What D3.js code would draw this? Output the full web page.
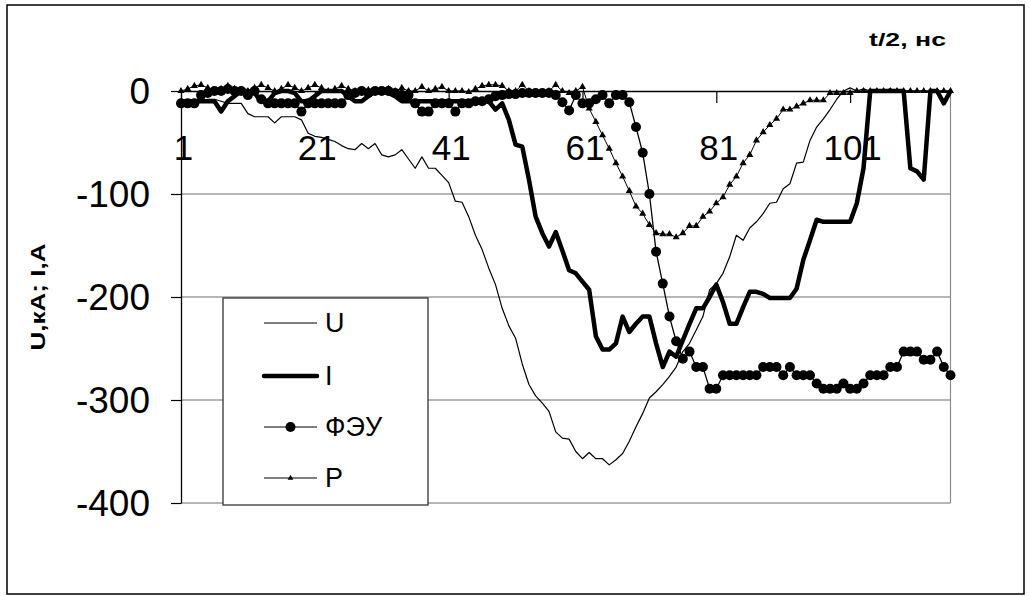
<!DOCTYPE html>
<html>
<head>
<meta charset="utf-8">
<script src="https://cdn.jsdelivr.net/npm/d3@7"></script>
<style>
  body { margin: 0; background: #fff; }
  svg text { font-family: "Liberation Sans", Arial, sans-serif; fill: #000; }
</style>
</head>
<body>
<div id="chart"></div>
<script>
// 1: DATA (t/2 step index 1..116)
const categories = d3.range(1, 117);
const xTickValues = [1, 21, 41, 61, 81, 101];
const yTickValues = [0, -100, -200, -300, -400];

const seriesU = [
  -12, -12, -10, -10, -8, -8, -10, -12, -12, -12,
  -22, -25, -25, -25, -31, -25, -25, -25, -28, -41,
  -44, -45, -47, -49, -53, -56, -57, -51, -56, -51,
  -62, -64, -62, -57, -66, -75, -64, -75, -75, -82,
  -89, -107, -108, -122, -140, -154, -172, -188, -211, -228,
  -240, -265, -285, -296, -303, -311, -331, -337, -338, -350,
  -357, -351, -357, -357, -363, -358, -352, -340, -326, -313,
  -298, -292, -285, -277, -268, -253, -245, -232, -219, -193,
  -187, -177, -161, -140, -145, -133, -127, -119, -109, -108,
  -95, -90, -70, -69, -48, -35, -27, -18, -8, 0,
  3, 0, 2, 0, 0, 0, 2, 0, 0, 0,
  0, 0, 0, 0, 0, 0
];

const seriesI = [
  -10, -10, -10, -10, -10, -10, -20, -10, -5, 0,
  0, -2, -10, -10, -2, 0, 0, -2, -10, -10,
  -5, 0, 0, 0, 0, -5, -10, -10, -5, 0,
  0, -2, -5, -10, -10, -10, -10, -10, -10, -10,
  -10, -10, -10, -10, -10, -10, -10, -18, -12, -28,
  -52, -54, -86, -122, -138, -151, -137, -155, -174, -177,
  -185, -193, -238, -251, -251, -245, -219, -234, -226, -219,
  -219, -245, -268, -253, -258, -242, -226, -211, -211, -200,
  -188, -205, -226, -226, -210, -195, -195, -197, -201, -201,
  -201, -201, -192, -164, -145, -125, -127, -127, -127, -127,
  -127, -109, -75, 0, 0, 0, 0, 0, 0, -75,
  -78, -86, 0, 0, -12, 0
];

const seriesFEU = [
  -12, -12, -12, -4, -2, 0, 0, 2, 0, 0,
  -4, 0, -8, -12, -12, -12, -12, -12, -20, -12,
  -12, -12, -12, -12, -12, -4, -2, 0, -2, 0,
  0, 0, -2, -4, -4, -12, -20, -20, -12, -12,
  -12, -20, -12, -12, -10, -10, -8, -5, -4, -3,
  -3, -2, -2, -2, -2, -2, -4, -11, -19, -4,
  -12, -12, -8, -4, -12, -4, -4, -11, -35, -60,
  -100, -156, -187, -219, -243, -260, -253, -268, -268, -289,
  -289, -276, -276, -276, -276, -276, -276, -268, -268, -268,
  -276, -268, -276, -276, -276, -284, -289, -289, -289, -284,
  -289, -289, -284, -276, -276, -276, -268, -268, -253, -253,
  -253, -261, -261, -253, -268, -276
];

const seriesP = [
  0, 2, 5, 6, 3, 0, 2, 5, 2, 0,
  0, 3, 6, 3, 0, 2, 6, 3, 0, 3,
  6, 3, 0, 2, 5, 2, 0, 0, 1, 0,
  0, 2, 0, 3, 0, 0, 4, 0, 2, 4,
  0, 0, 0, -1, 2, 5, 6, 6, 5, 0,
  0, 6, 0, -2, -2, 0, 6, 0, -2, 0,
  4, -17, -30, -43, -56, -70, -83, -97, -112, -119,
  -130, -138, -139, -139, -142, -138, -131, -131, -122, -117,
  -109, -103, -91, -83, -70, -62, -48, -40, -33, -27,
  -18, -18, -15, -12, -9, -9, -9, -2, -2, -2,
  -2, 0, 0, 0, 0, 0, 0, 0, 0, 0,
  0, 0, 0, 0, 0, 0
];

const seriesNames = ["U", "I", "ФЭУ", "P"];

// 2: SVG + SCALES
const W = 1030, H = 596;
const plot = { left: 181, right: 950.5, top: 91, bottom: 503 };

const svg = d3.select("#chart").append("svg")
    .attr("width", W)
    .attr("height", H);

// outer chart frame
svg.append("rect")
    .attr("x", 7).attr("y", 5)
    .attr("width", 1017).attr("height", 589)
    .attr("fill", "#fff")
    .attr("stroke", "#000")
    .attr("stroke-width", 1.5);

const x = d3.scalePoint()
    .domain(categories)
    .range([plot.left, plot.right]);

const y = d3.scaleLinear()
    .domain([-400, 0])
    .range([plot.bottom, plot.top]);

// gridlines
svg.append("g")
    .selectAll("line")
    .data(yTickValues.filter(d => d !== 0))
    .enter()
    .append("line")
    .attr("x1", plot.left).attr("x2", plot.right)
    .attr("y1", d => y(d)).attr("y2", d => y(d))
    .attr("stroke", "#6e6e6e")
    .attr("stroke-width", 1.2);

// right edge of plot area
svg.append("line")
    .attr("x1", plot.right).attr("x2", plot.right)
    .attr("y1", plot.top).attr("y2", plot.bottom)
    .attr("stroke", "#8c8c8c")
    .attr("stroke-width", 1.2);

// Y axis
const yAxis = svg.append("g")
    .attr("transform", `translate(${plot.left},0)`)
    .call(d3.axisLeft(y)
        .tickValues(yTickValues)
        .tickSize(10)
        .tickSizeOuter(0)
        .tickPadding(21)
        .tickFormat(d => String(d)));
yAxis.select(".domain").attr("stroke", "#000").attr("stroke-width", 1.3);
yAxis.selectAll(".tick line").attr("stroke", "#000").attr("stroke-width", 1.2);
yAxis.selectAll("text")
    .style("font-size", "37px")
    .attr("dy", "0.34em");

// X axis sits on the zero line, labels hang below it
const xAxis = svg.append("g")
    .attr("transform", `translate(0,${y(0)})`)
    .call(d3.axisBottom(x)
        .tickValues(xTickValues)
        .tickSize(12)
        .tickSizeOuter(0));
xAxis.select(".domain").attr("stroke", "#000").attr("stroke-width", 1.3);
xAxis.selectAll(".tick line").attr("stroke", "#000").attr("stroke-width", 1.2);
xAxis.selectAll("text")
    .style("font-size", "35px")
    .attr("y", 69)
    .attr("dy", 0)
    .attr("dx", 2);

// 3: LINES
const line = d3.line()
    .x((d, i) => x(categories[i]))
    .y(d => y(d));

svg.append("path")
    .datum(seriesU)
    .attr("d", line)
    .attr("fill", "none")
    .attr("stroke", "#000")
    .attr("stroke-width", 1.2)
    .attr("stroke-linejoin", "round");

svg.append("path")
    .datum(seriesI)
    .attr("d", line)
    .attr("fill", "none")
    .attr("stroke", "#000")
    .attr("stroke-width", 4.5)
    .attr("stroke-linejoin", "round");

svg.append("path")
    .datum(seriesFEU)
    .attr("d", line)
    .attr("fill", "none")
    .attr("stroke", "#000")
    .attr("stroke-width", 1.3);

svg.append("g")
    .selectAll("circle")
    .data(seriesFEU)
    .enter()
    .append("circle")
    .attr("cx", (d, i) => x(categories[i]))
    .attr("cy", d => y(d))
    .attr("r", 5)
    .attr("fill", "#000");

svg.append("path")
    .datum(seriesP)
    .attr("d", line)
    .attr("fill", "none")
    .attr("stroke", "#000")
    .attr("stroke-width", 1);

const tri = d3.symbol().type(d3.symbolTriangle).size(22);
svg.append("g")
    .selectAll("path")
    .data(seriesP)
    .enter()
    .append("path")
    .attr("d", tri)
    .attr("transform", (d, i) => `translate(${x(categories[i])},${y(d)})`)
    .attr("fill", "#000");

// 4: AXIS TITLES
svg.append("text")
    .attr("x", 869)
    .attr("y", 46)
    .attr("textLength", 77)
    .attr("lengthAdjust", "spacingAndGlyphs")
    .style("font-size", "19px")
    .style("font-weight", "bold")
    .text("t/2, нс");

svg.append("text")
    .attr("transform", "translate(44.5,297) rotate(-90)")
    .attr("text-anchor", "middle")
    .attr("textLength", 107)
    .attr("lengthAdjust", "spacingAndGlyphs")
    .style("font-size", "20px")
    .style("font-weight", "bold")
    .text("U,кА; I,A");

// 5: LEGEND
const legend = svg.append("g").attr("transform", "translate(223,298)");
legend.append("rect")
    .attr("width", 205).attr("height", 207)
    .attr("fill", "#fff")
    .attr("stroke", "#333")
    .attr("stroke-width", 1.3);

const rowY = [25, 78, 129, 180];
const items = legend.selectAll(".legend-item")
    .data(seriesNames)
    .enter()
    .append("g")
    .attr("class", "legend-item")
    .attr("transform", (d, i) => `translate(0,${rowY[i]})`);

items.append("line")
    .attr("x1", 41).attr("x2", 94)
    .attr("stroke", "#000")
    .attr("stroke-width", (d, i) => i === 1 ? 4.5 : 1.2)
    .attr("stroke-linecap", (d, i) => i === 1 ? "round" : "butt");

items.filter((d, i) => i === 2)
    .append("circle")
    .attr("cx", 67.5).attr("r", 5)
    .attr("fill", "#000");

items.filter((d, i) => i === 3)
    .append("path")
    .attr("d", d3.symbol().type(d3.symbolTriangle).size(14))
    .attr("transform", "translate(67.5,0)")
    .attr("fill", "#000");

items.append("text")
    .attr("x", 102)
    .attr("dy", "0.35em")
    .style("font-size", "27px")
    .text(d => d);
</script>
</body>
</html>
